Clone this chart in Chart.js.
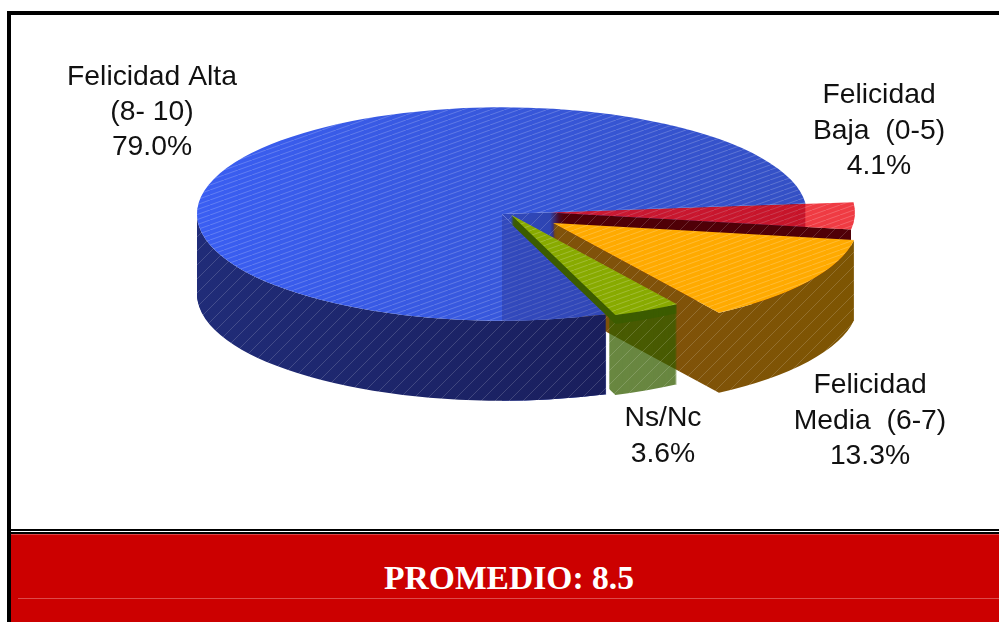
<!DOCTYPE html>
<html lang="es">
<head>
<meta charset="utf-8">
<title>Felicidad</title>
<script src="https://cdn.jsdelivr.net/npm/chart.js@4"></script>
<style>
html,body{margin:0;padding:0;background:#fff;}
#wrap{position:relative;width:999px;height:622px;overflow:hidden;background:#fff;}
.k{position:absolute;background:#000;}
#band{position:absolute;left:11px;top:534px;width:988px;height:88px;background:#cc0000;border-top:1px solid #dd4444;box-sizing:border-box;}
#rule{position:absolute;left:7px;top:63px;width:981px;height:1px;background:#dd4a4a;}
#title{position:absolute;left:0;top:533px;width:1018px;text-align:center;font:bold 33.6px "Liberation Serif",serif;line-height:90px;color:#fff;}
canvas{position:absolute;left:0;top:0;}
</style>
</head>
<body>
<div id="wrap">
  <div class="k" style="left:7px;top:11px;width:992px;height:4px"></div>
  <div class="k" style="left:7px;top:11px;width:4px;height:611px"></div>
  <div class="k" style="left:9px;top:529px;width:990px;height:2px"></div>
  <div class="k" style="left:9px;top:532px;width:990px;height:2px"></div>
  <div id="band"><div id="rule"></div></div>
  <div id="title">PROMEDIO: 8.5</div>
  <canvas id="c" width="999" height="622"></canvas>
</div>
<script>
const categories = [
  ['Felicidad Alta', '(8- 10)'],
  ['Felicidad', 'Baja  (0-5)'],
  ['Felicidad', 'Media  (6-7)'],
  ['Ns/Nc']
];
const values = [79.0, 4.1, 13.3, 3.6];
const sliceColors = ['#3358ea', '#ec101a', '#ffaa00', '#88aa00'];
const wallColors = ['#202c78', '#500008', '#805400', '#375f00'];
const explodeX = [0, 48, 51, 9];
const explodeY = [0, -4, 26, 2];
const labelCenters = [[152, 77], [879, 95.5], [870, 385.5], [663, 418.5]];

const CX = 502, CY = 214, RADIUS = 305, SQUASH = 0.35, DEPTH = 80;

function makeLayer() {
  const cv = document.createElement('canvas');
  cv.width = 999; cv.height = 622;
  return cv.getContext('2d');
}
function makeTile(w, h, alpha, width) {
  const cv = document.createElement('canvas');
  cv.width = w; cv.height = h;
  const t = cv.getContext('2d');
  t.strokeStyle = 'rgba(255,255,255,' + alpha + ')';
  t.lineWidth = width;
  [-w, 0, w].forEach(function (dx) {
    t.beginPath(); t.moveTo(dx, h); t.lineTo(dx + w, 0); t.stroke();
  });
  return cv;
}
function placeArc(c, el, i, d) {
  c.setTransform(1, 0, 0, 1, 0, 0);
  c.translate(CX, CY + d);
  c.scale(1, SQUASH);
  c.translate(explodeX[i], explodeY[i]);
  c.translate(-el.x, -el.y);
}
function paintArc(c, el, i, d, fill) {
  const saved = el.options;
  el.options = Object.assign({}, saved, { backgroundColor: fill, borderWidth: 0 });
  placeArc(c, el, i, d);
  el.draw(c);
  el.options = saved;
  c.setTransform(1, 0, 0, 1, 0, 0);
}
function hatch(c, pattern) {
  c.save();
  c.globalCompositeOperation = 'source-atop';
  c.fillStyle = c.createPattern(pattern, 'repeat');
  c.fillRect(0, 0, 999, 622);
  c.restore();
}
function wallLayer(el, i, fill) {
  const c = makeLayer();
  for (let d = DEPTH; d >= 1; d--) paintArc(c, el, i, d, fill);
  c.globalCompositeOperation = 'destination-out';
  paintArc(c, el, i, 0, '#000');
  c.globalCompositeOperation = 'source-over';
  hatch(c, makeTile(14, 14, 0.16, 1));
  return c;
}
function faceLayer(el, i, fill) {
  const c = makeLayer();
  paintArc(c, el, i, 0, fill);
  hatch(c, makeTile(14, 5, 0.2, 1));
  return c;
}
function rimPoint(el, i, angle) {
  return {
    x: CX + explodeX[i] + Math.cos(angle) * el.outerRadius,
    y: CY + (explodeY[i] + Math.sin(angle) * el.outerRadius) * SQUASH
  };
}

const pie3d = {
  id: 'pie3d',
  beforeDatasetsDraw(chart) {
    const ctx = chart.ctx;
    const arcs = chart.getDatasetMeta(0).data;
    const blue = arcs[0], red = arcs[1], orange = arcs[2], green = arcs[3];
    const stamp = function (c, a) {
      ctx.save(); ctx.globalAlpha = a || 1; ctx.setTransform(1, 0, 0, 1, 0, 0);
      ctx.drawImage(c.canvas, 0, 0); ctx.restore();
    };
    const grad = function (x0, x1, a, b) {
      const g = ctx.createLinearGradient(x0, 0, x1, 0);
      g.addColorStop(0, a); g.addColorStop(1, b); return g;
    };
    const cut = rimPoint(blue, 0, blue.startAngle);

    // hollow: inner face of the big slice
    const hollow = wallLayer(blue, 0, grad(CX, CX + RADIUS, '#3149bd', '#1c2a70'));
    ctx.save();
    ctx.beginPath(); ctx.rect(CX, 0, 999 - CX, 622); ctx.clip();
    stamp(hollow);
    ctx.restore();

    // exploded slices behind the front of the big slice
    const redEnd = rimPoint(red, 1, red.endAngle);
    const redWall = wallLayer(red, 1, wallColors[1]);
    ctx.save();
    ctx.beginPath(); ctx.rect(0, 0, redEnd.x, 622); ctx.clip();
    stamp(redWall);
    ctx.restore();
    stamp(faceLayer(red, 1, sliceColors[1]), 0.82);
    stamp(wallLayer(orange, 2, grad(CX + 100, CX + RADIUS + 50, '#80520a', '#7d5600')));
    stamp(faceLayer(orange, 2, sliceColors[2]));

    // front wall of the big slice, in front of the orange wall
    const front = wallLayer(blue, 0, grad(CX - RADIUS, cut.x, wallColors[0], '#191e5c'));
    ctx.save();
    ctx.beginPath();
    ctx.rect(0, 0, CX, 622);
    ctx.rect(CX, cut.y, cut.x - CX, 622 - cut.y);
    ctx.clip();
    stamp(front);
    ctx.restore();

    // top of the big slice, darker where the inner wall shows through
    const bt = faceLayer(blue, 0, grad(CX - RADIUS, CX + RADIUS, '#3a5ef2', '#3450c4'));
    bt.save();
    bt.globalCompositeOperation = 'source-atop';
    bt.fillStyle = 'rgba(35,40,120,0.3)';
    bt.beginPath();
    bt.moveTo(CX, CY);
    bt.lineTo(cut.x, cut.y);
    bt.lineTo(cut.x, cut.y + 200);
    bt.lineTo(CX, cut.y + 200);
    bt.closePath();
    bt.fill();
    bt.restore();
    stamp(bt);

    // translucent small slice, in front of everything
    const gLeft = rimPoint(green, 3, green.endAngle);
    const gw = wallLayer(green, 3, wallColors[3]);
    ctx.save();
    ctx.beginPath(); ctx.rect(gLeft.x - 6, 0, 999, 622); ctx.clip();
    stamp(gw, 0.75);
    ctx.restore();
    const edge = makeLayer();
    for (let d = 9; d >= 1; d--) paintArc(edge, green, 3, d, '#3c5c00');
    stamp(edge);
    stamp(faceLayer(green, 3, sliceColors[3]));
    return false;
  },
  afterDraw(chart) {
    const ctx = chart.ctx;
    ctx.save();
    ctx.setTransform(1, 0, 0, 1, 0, 0);
    ctx.fillStyle = '#111';
    ctx.font = '28.3px "Liberation Sans", Arial, sans-serif';
    ctx.textAlign = 'center';
    ctx.textBaseline = 'middle';
    categories.forEach(function (lines, i) {
      const all = lines.concat(values[i].toFixed(1) + '%');
      all.forEach(function (text, n) {
        ctx.fillText(text, labelCenters[i][0], labelCenters[i][1] + n * 35.3);
      });
    });
    ctx.restore();
  }
};

new Chart(document.getElementById('c'), {
  type: 'pie',
  data: {
    labels: categories,
    datasets: [{ data: values, backgroundColor: sliceColors, borderWidth: 0 }]
  },
  options: {
    responsive: false,
    animation: false,
    rotation: 160,
    radius: RADIUS,
    layout: { padding: 0 },
    plugins: { legend: { display: false }, tooltip: { enabled: false } }
  },
  plugins: [pie3d]
});
</script>
</body>
</html>
